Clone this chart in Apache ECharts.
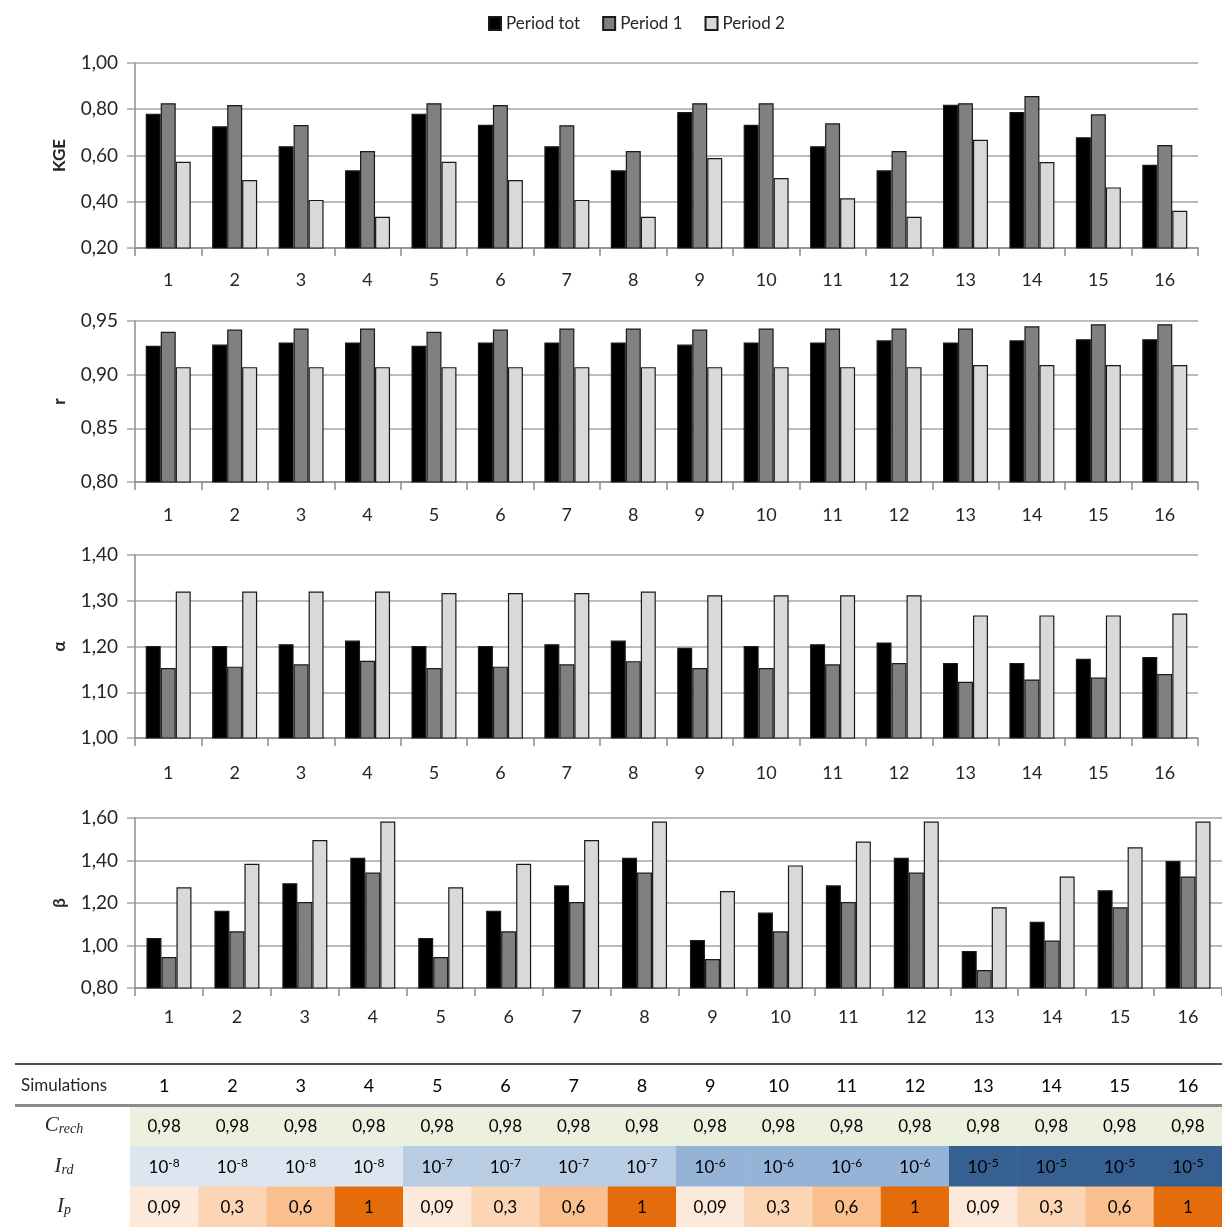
<!DOCTYPE html>
<html>
<head>
<meta charset="utf-8">
<script src="https://cdn.jsdelivr.net/npm/echarts@6/dist/echarts.min.js"></script>
<style>
html,body{margin:0;padding:0;background:#fff;}
#chart{width:1222px;height:1227px;}
</style>
</head>
<body>
<div id="chart"></div>
<script>
// ---- data ----
const categories = ['1','2','3','4','5','6','7','8','9','10','11','12','13','14','15','16'];
const seriesNames = ['Period tot', 'Period 1', 'Period 2'];

const kgeTot = [0.781,0.726,0.640,0.536,0.781,0.733,0.640,0.536,0.788,0.733,0.640,0.536,0.820,0.788,0.679,0.560];
const kgeP1  = [0.826,0.818,0.732,0.619,0.826,0.818,0.731,0.619,0.826,0.826,0.739,0.619,0.826,0.857,0.778,0.645];
const kgeP2  = [0.573,0.494,0.408,0.335,0.573,0.494,0.408,0.335,0.589,0.503,0.415,0.335,0.668,0.572,0.462,0.361];

const rTot = [0.927,0.928,0.930,0.930,0.927,0.930,0.930,0.930,0.928,0.930,0.930,0.932,0.930,0.932,0.933,0.933];
const rP1  = [0.940,0.942,0.943,0.943,0.940,0.942,0.943,0.943,0.942,0.943,0.943,0.943,0.943,0.945,0.947,0.947];
const rP2  = [0.907,0.907,0.907,0.907,0.907,0.907,0.907,0.907,0.907,0.907,0.907,0.907,0.909,0.909,0.909,0.909];

const alphaTot = [1.201,1.201,1.205,1.213,1.201,1.201,1.205,1.213,1.197,1.201,1.205,1.209,1.164,1.164,1.173,1.177];
const alphaP1  = [1.153,1.156,1.161,1.169,1.153,1.156,1.161,1.168,1.153,1.153,1.161,1.164,1.123,1.128,1.132,1.140];
const alphaP2  = [1.320,1.320,1.320,1.320,1.317,1.317,1.317,1.320,1.312,1.312,1.312,1.312,1.268,1.268,1.268,1.272];

const betaTot = [1.035,1.164,1.293,1.413,1.035,1.164,1.283,1.413,1.026,1.155,1.283,1.413,0.974,1.112,1.260,1.398];
const betaP1  = [0.946,1.067,1.205,1.343,0.946,1.067,1.205,1.343,0.936,1.067,1.205,1.343,0.885,1.023,1.180,1.325];
const betaP2  = [1.274,1.385,1.496,1.583,1.274,1.385,1.496,1.583,1.256,1.377,1.489,1.583,1.180,1.325,1.462,1.583];

const yTicksKGE = [0.2, 1.0, 0.2];   // min, max, interval
const yTicksR = [0.80, 0.95, 0.05];
const yTicksAlpha = [1.0, 1.4, 0.1];
const yTicksBeta = [0.8, 1.6, 0.2];

const tableRows = ['Simulations', 'Crech', 'Ird', 'Ip'];
const cRech = ['0,98','0,98','0,98','0,98','0,98','0,98','0,98','0,98','0,98','0,98','0,98','0,98','0,98','0,98','0,98','0,98'];
const irdExp = ['-8','-8','-8','-8','-7','-7','-7','-7','-6','-6','-6','-6','-5','-5','-5','-5'];
const ipVals = ['0,09','0,3','0,6','1','0,09','0,3','0,6','1','0,09','0,3','0,6','1','0,09','0,3','0,6','1'];

// ---- styles ----
const FONT = 'Lato, "Open Sans", sans-serif';
const TXT = '#262626';
const barColors = ['#000000', '#808080', '#d9d9d9'];
const irdColors = {'-8':'#dce6f1','-7':'#b8cce4','-6':'#95b3d7','-5':'#376092'};
const ipColors = {'0,09':'#fde9d9','0,3':'#fcd5b4','0,6':'#fabf8f','1':'#e46c0a'};
const cRechColor = '#ebf1de';

const grids = [
  {left:135, right:24, top:63, height:185},
  {left:135, right:24, top:321, height:161},
  {left:135, right:24, top:555, height:183},
  {left:135, right:0, top:818, height:170},
  {left:130, right:0, top:1065, height:162}
];

const fmt = v => v.toFixed(2).replace('.', ',');

function xAxisFor(i, margin) {
  return {
    type:'category', gridIndex:i, data:categories, boundaryGap:true,
    axisLine:{show:true, lineStyle:{color:'#8c8c8c', width:1.5}},
    axisTick:{show:true, length:8, lineStyle:{color:'#8c8c8c', width:1.5}},
    axisLabel:{margin:margin, fontFamily:FONT, fontSize:18, color:TXT},
    splitLine:{show:false}
  };
}
function yAxisFor(i, ticks, name) {
  return {
    type:'value', gridIndex:i, min:ticks[0], max:ticks[1], interval:ticks[2],
    name:name, nameLocation:'middle', nameGap:67,
    nameTextStyle:{fontFamily:FONT, fontSize:17, fontWeight:'bold', color:TXT},
    axisLine:{show:true, lineStyle:{color:'#8c8c8c', width:1.5}},
    axisTick:{show:true, length:8, lineStyle:{color:'#a6a6a6', width:1.5}},
    axisLabel:{margin:17, fontFamily:FONT, fontSize:19, color:TXT, formatter:fmt},
    splitLine:{show:true, lineStyle:{color:'#a6a6a6', width:1.5}}
  };
}
function barsFor(i, arrs) {
  return arrs.map((arr, k) => ({
    type:'bar', name:seriesNames[k], xAxisIndex:i, yAxisIndex:i, data:arr,
    barWidth:15, barGap:'0%',
    itemStyle:{color:barColors[k], borderColor:'#1a1a1a', borderWidth:1.2},
    emphasis:{disabled:true}
  }));
}

// ---- table data ----
const tableData = [];
categories.forEach((c, j) => {
  tableData.push([j, 0, c, 'head', null]);
  tableData.push([j, 1, cRech[j], 'plain', cRechColor]);
  tableData.push([j, 2, irdExp[j], 'pow', irdColors[irdExp[j]]]);
  tableData.push([j, 3, ipVals[j], 'plain', ipColors[ipVals[j]]]);
});

function renderCell(params, api) {
  const d = tableData[params.dataIndex];
  const p = api.coord([api.value(0), api.value(1)]);
  const s = api.size([1, 1]);
  const children = [];
  if (d[4]) {
    children.push({type:'rect', shape:{x:p[0]-s[0]/2, y:p[1]-s[1]/2, width:s[0]+0.6, height:s[1]+0.6},
      style:{fill:d[4]}});
  }
  const txt = d[3] === 'pow' ? '{b|10}{sup|' + d[2] + '}' : '{b|' + d[2] + '}';
  children.push({type:'text', style:{
    text:txt, x:p[0], y:p[1] + 1, align:'center', verticalAlign:'middle',
    rich:{
      b:{fontFamily:FONT, fontSize:d[3] === 'head' ? 18 : 17, color:TXT, lineHeight:20},
      sup:{fontFamily:FONT, fontSize:12, color:TXT, lineHeight:11, verticalAlign:'top'}
    }
  }});
  return {type:'group', children:children};
}

const rowLabelFmt = v => {
  if (v === 'Simulations') return '{s|Simulations}';
  if (v === 'Crech') return '{m|C}{sub|rech}';
  if (v === 'Ird') return '{m|I}{sub|rd}';
  return '{m|I}{sub|p}';
};

const chart = echarts.init(document.getElementById('chart'), null, {renderer:'canvas'});
chart.setOption({
  backgroundColor:'#ffffff',
  animation:false,
  legend:{
    data:seriesNames, left:483, top:10, itemWidth:12, itemHeight:13, itemGap:22,
    textStyle:{fontFamily:FONT, fontSize:17, color:TXT}, icon:'rect'
  },
  grid:grids,
  xAxis:[
    xAxisFor(0, 23), xAxisFor(1, 24), xAxisFor(2, 26), xAxisFor(3, 20),
    {type:'category', gridIndex:4, data:categories, show:false}
  ],
  yAxis:[
    yAxisFor(0, yTicksKGE, 'KGE'),
    yAxisFor(1, yTicksR, 'r'),
    yAxisFor(2, yTicksAlpha, 'α'),
    yAxisFor(3, yTicksBeta, 'β'),
    {type:'category', gridIndex:4, data:tableRows, inverse:true,
      axisLine:{show:false}, axisTick:{show:false}, splitLine:{show:false},
      axisLabel:{align:'center', margin:66, formatter:rowLabelFmt,
        rich:{
          s:{fontFamily:FONT, fontSize:17, color:TXT, lineHeight:22},
          m:{fontFamily:'"Liberation Serif", "DejaVu Serif", serif', fontStyle:'italic', fontSize:21, color:TXT, lineHeight:22},
          sub:{fontFamily:'"Liberation Serif", "DejaVu Serif", serif', fontStyle:'italic', fontSize:14, color:TXT, lineHeight:12, verticalAlign:'bottom'}
        }}}
  ],
  graphic:[
    {type:'line', shape:{x1:15, y1:1064, x2:1222, y2:1064}, style:{stroke:'#4d4d4d', lineWidth:2}, silent:true},
    {type:'line', shape:{x1:15, y1:1105.5, x2:1222, y2:1105.5}, style:{stroke:'#8c8c8c', lineWidth:3}, silent:true, z:100}
  ],
  series:[
    ...barsFor(0, [kgeTot, kgeP1, kgeP2]),
    ...barsFor(1, [rTot, rP1, rP2]),
    ...barsFor(2, [alphaTot, alphaP1, alphaP2]),
    ...barsFor(3, [betaTot, betaP1, betaP2]),
    {type:'custom', xAxisIndex:4, yAxisIndex:4, data:tableData.map(d => [d[0], d[1]]),
      renderItem:renderCell, silent:true, z:1}
  ]
});
</script>
</body>
</html>
